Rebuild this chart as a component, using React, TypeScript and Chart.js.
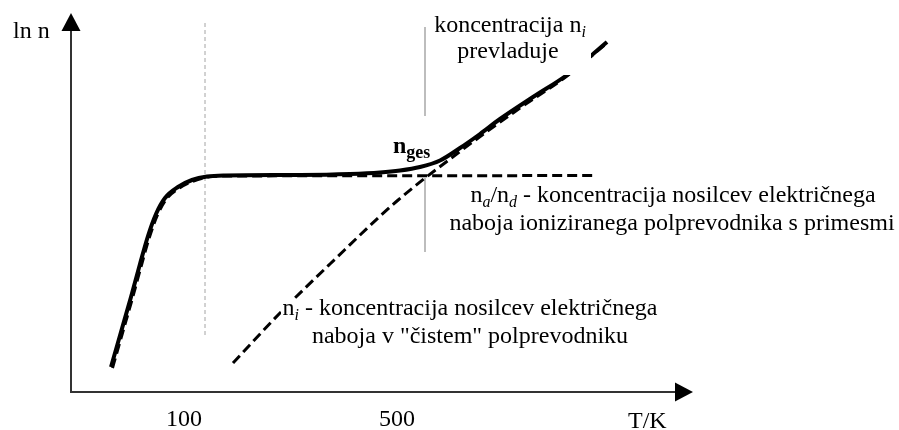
import React, { useEffect, useRef } from 'react';
import { Chart, registerables } from 'chart.js';

Chart.register(...registerables);

// Schematic axes: x = position along the temperature axis (arbitrary units), y = ln n (arbitrary units)
const X_MIN = 0;
const X_MAX = 60.4;
const Y_MIN = 0;
const Y_MAX = 36.1;

// x-axis tick labels (temperatures in K) and where they sit on the schematic axis
const tickPositions = [11.3, 32.6];
const tickLabels = ['100', '500'];

// total carrier concentration n_ges (solid)
const nGesX = [4.0, 5.0, 6.0, 6.9, 7.7, 8.5, 9.4, 10.7, 12.1, 13.6, 15.4, 22.9, 27.9, 30.9, 32.9, 34.9, 36.9, 38.9, 40.9, 42.9, 46.2, 49.6, 52.1, 53.6];
const nGesY = [2.5, 6.0, 9.5, 12.8, 15.6, 17.8, 19.4, 20.5, 21.2, 21.55, 21.65, 21.7, 21.8, 21.95, 22.15, 22.5, 23.15, 24.4, 25.8, 27.3, 29.5, 31.7, 33.7, 35.0];

// n_a / n_d – ionised impurity concentration (dashed)
const nAdX = [4.15, 5.15, 6.15, 7.05, 7.85, 8.65, 9.55, 10.85, 12.25, 13.75, 15.5, 30.0, 52.6];
const nAdY = [2.4, 5.9, 9.4, 12.7, 15.5, 17.7, 19.3, 20.4, 21.1, 21.5, 21.6, 21.62, 21.65];

// n_i – intrinsic concentration (dashed)
const nIX = [16.2, 20.9, 25.9, 32.6, 38.7, 44.9, 49.6, 53.6];
const nIY = [2.9, 7.9, 12.8, 19.1, 23.9, 28.4, 31.6, 34.9];

// guide lines
const guideDashX = [13.4, 13.4];
const guideDashY = [36.9, 5.4];
const guideSolidX = [35.4, 35.4, 35.4, 35.4, 35.4];
const guideSolidY: (number | null)[] = [36.5, 27.6, null, 21.4, 14.0];

const pts = (xs: number[], ys: (number | null)[]) => xs.map((x, i) => ({ x, y: ys[i] }));

const FAM = '"Liberation Serif", "Times New Roman", serif';

type Seg = { t: string; it?: boolean; b?: boolean; sub?: boolean; size?: number };

function drawRich(ctx: CanvasRenderingContext2D, segs: Seg[], x: number, baseline: number, align: 'left' | 'center') {
  const fontOf = (s: Seg) => `${s.it ? 'italic ' : ''}${s.b ? 'bold ' : ''}${s.size ?? (s.sub ? 16 : 24)}px ${FAM}`;
  let w = 0;
  for (const s of segs) {
    ctx.font = fontOf(s);
    w += ctx.measureText(s.t).width;
  }
  let cx = align === 'center' ? x - w / 2 : x;
  ctx.textAlign = 'left';
  ctx.textBaseline = 'alphabetic';
  for (const s of segs) {
    ctx.font = fontOf(s);
    ctx.fillText(s.t, cx, baseline + (s.sub ? 5 : 0));
    cx += ctx.measureText(s.t).width;
  }
}

const annotate = {
  id: 'annotate',
  afterDatasetsDraw(chart: any) {
    const ctx: CanvasRenderingContext2D = chart.ctx;
    const { left, top, right, bottom } = chart.chartArea;
    ctx.save();
    // axis arrows
    ctx.fillStyle = '#000';
    ctx.beginPath();
    ctx.moveTo(left, top - 18);
    ctx.lineTo(left - 9.5, top);
    ctx.lineTo(left + 9.5, top);
    ctx.closePath();
    ctx.fill();
    ctx.beginPath();
    ctx.moveTo(right + 18, bottom);
    ctx.lineTo(right, bottom - 9.5);
    ctx.lineTo(right, bottom + 9.5);
    ctx.closePath();
    ctx.fill();

    // white label backgrounds
    ctx.fillStyle = '#fff';
    ctx.fillRect(430, 6, 161, 69);
    ctx.fillRect(281, 299, 380, 52);

    ctx.fillStyle = '#000';
    drawRich(ctx, [{ t: 'ln n' }], 13, 38, 'left');
    drawRich(ctx, [{ t: 'T/K' }], 628, 428, 'left');
    drawRich(ctx, [{ t: 'koncentracija n' }, { t: 'i', it: true, sub: true }], 510, 32, 'center');
    drawRich(ctx, [{ t: 'prevladuje' }], 508, 58, 'center');
    drawRich(ctx, [{ t: 'n', b: true }, { t: 'ges', b: true, sub: true, size: 18 }], 393, 153, 'left');
    drawRich(
      ctx,
      [
        { t: 'n' },
        { t: 'a', it: true, sub: true },
        { t: '/n' },
        { t: 'd', it: true, sub: true },
        { t: ' - koncentracija nosilcev električnega' },
      ],
      673,
      202,
      'center'
    );
    drawRich(ctx, [{ t: 'naboja ioniziranega polprevodnika s primesmi' }], 672, 230, 'center');
    drawRich(ctx, [{ t: 'n' }, { t: 'i', it: true, sub: true }, { t: ' - koncentracija nosilcev električnega' }], 470, 315, 'center');
    drawRich(ctx, [{ t: 'naboja v "čistem" polprevodniku' }], 470, 343, 'center');
    ctx.restore();
  },
};

export default function App() {
  const ref = useRef<HTMLCanvasElement>(null);
  useEffect(() => {
    if (!ref.current) return;
    const chart = new Chart(ref.current, {
      type: 'line',
      data: {
        datasets: [
          {
            label: 'n_ges',
            data: pts(nGesX, nGesY),
            borderColor: '#000',
            borderWidth: 4,
            pointRadius: 0,
            cubicInterpolationMode: 'monotone',
            clip: false,
          },
          {
            label: 'n_a/n_d',
            data: pts(nAdX, nAdY),
            borderColor: '#000',
            borderWidth: 3,
            borderDash: [10, 5],
            pointRadius: 0,
            cubicInterpolationMode: 'monotone',
            clip: false,
          },
          {
            label: 'n_i',
            data: pts(nIX, nIY),
            borderColor: '#000',
            borderWidth: 3,
            borderDash: [10, 5],
            pointRadius: 0,
            cubicInterpolationMode: 'monotone',
            clip: false,
          },
          {
            label: 'guide1',
            data: pts(guideDashX, guideDashY),
            borderColor: '#a4a4a4',
            borderWidth: 1,
            borderDash: [4, 3],
            pointRadius: 0,
            tension: 0,
            clip: false,
          },
          {
            label: 'guide2',
            data: pts(guideSolidX, guideSolidY),
            borderColor: '#a8a8a8',
            borderWidth: 1.5,
            pointRadius: 0,
            tension: 0,
            spanGaps: false,
            clip: false,
          },
        ] as any,
      },
      options: {
        animation: false,
        responsive: false,
        events: [],
        layout: { padding: { left: 71, top: 31, right: 224, bottom: 0 } },
        plugins: { legend: { display: false }, tooltip: { enabled: false } },
        scales: {
          x: {
            type: 'linear',
            min: X_MIN,
            max: X_MAX,
            bounds: 'data',
            grid: { display: false, drawTicks: false },
            border: { display: true, color: '#333', width: 2 },
            ticks: {
              autoSkip: false,
              maxRotation: 0,
              padding: 13,
              color: '#000',
              font: { family: FAM, size: 24 },
              callback: (_v: any, i: number) => tickLabels[i],
            },
            afterBuildTicks: (s: any) => {
              s.ticks = tickPositions.map((v) => ({ value: v }));
            },
            afterFit: (s: any) => {
              s.height = 38;
            },
          },
          y: {
            type: 'linear',
            min: Y_MIN,
            max: Y_MAX,
            bounds: 'data',
            grid: { display: false, drawTicks: false },
            border: { display: true, color: '#333', width: 2 },
            ticks: { display: false },
            afterFit: (s: any) => {
              s.width = 0;
            },
          },
        },
      } as any,
      plugins: [annotate],
    });
    return () => chart.destroy();
  }, []);
  return (
    <div style={{ position: 'fixed', left: 0, top: 0, width: 899, height: 430, background: '#fff' }}>
      <canvas ref={ref} width={899} height={430} />
    </div>
  );
}
